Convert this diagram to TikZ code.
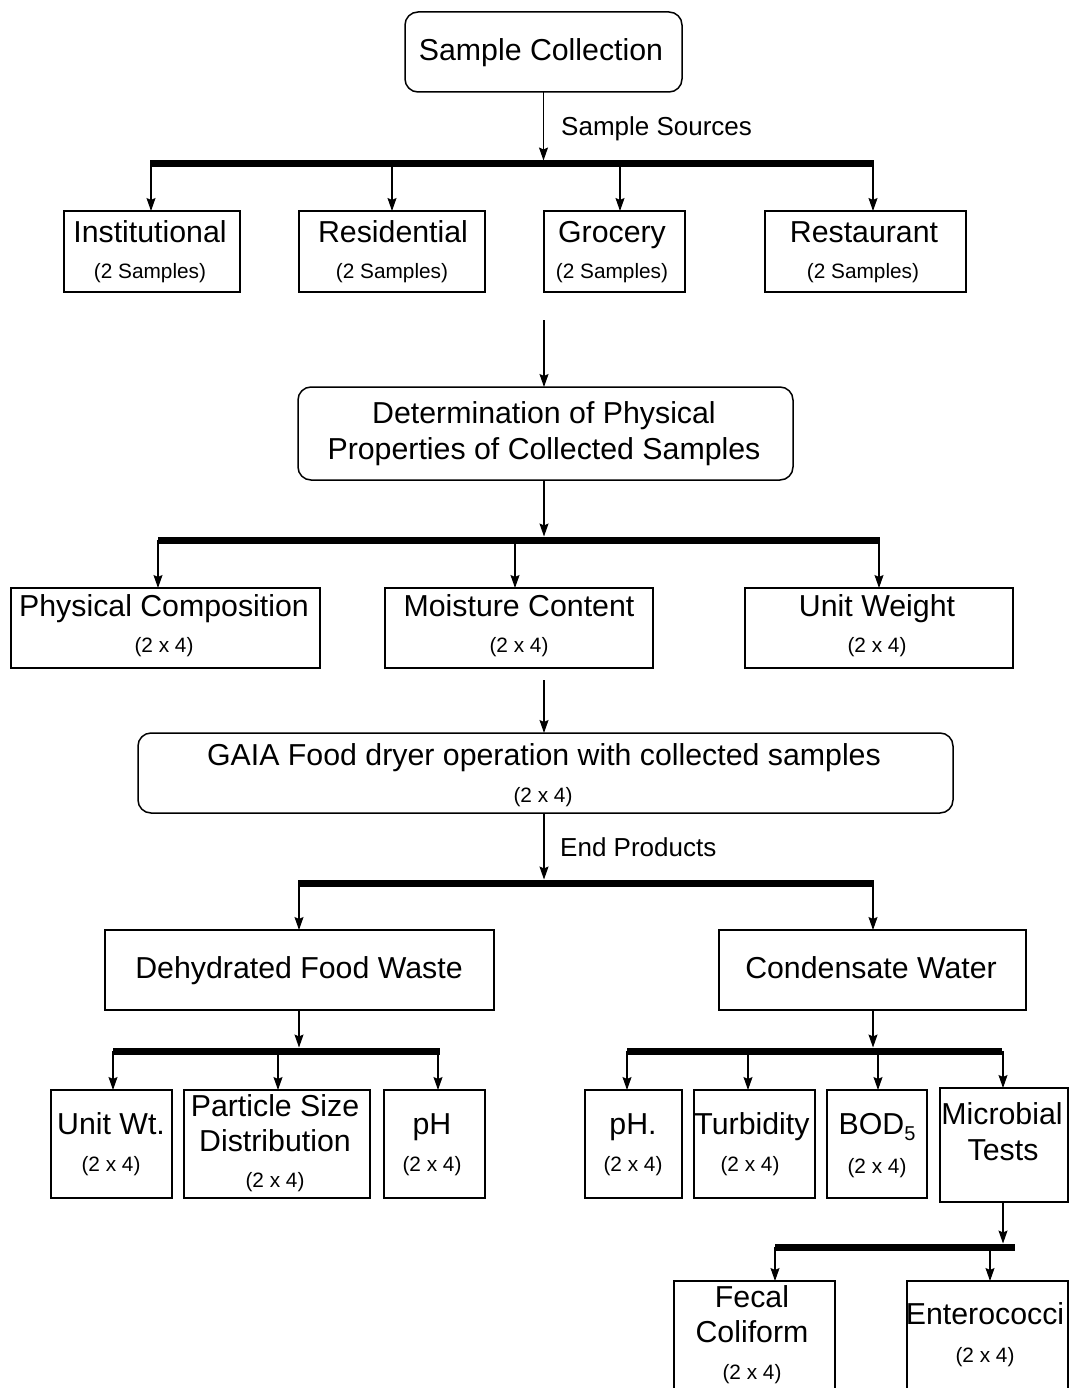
\documentclass[tikz,border=0pt]{standalone}
\usepackage{fontspec}
\setmainfont{Liberation Sans}
\usetikzlibrary{arrows.meta}

% box from corner (x1,y1) to corner (x2,y2): style, name, x1, y1, x2, y2
\newcommand\bx[6]{%
  \node[#1, minimum width={(#5-#3)*1pt}, minimum height={(#6-#4)*1pt}]
    (#2) at ({(#3+#5)/2},{(#4+#6)/2}) {};}

\tikzset{
  sq/.style={draw, line width=1.5pt, inner sep=0pt, outer sep=0pt},
  rnd/.style={sq, rounded corners=13pt},
  ttl/.style={font=\fontsize{30.3}{36}\selectfont, inner sep=0pt, anchor=base},
  sub/.style={font=\fontsize{20.8}{24}\selectfont, inner sep=0pt, anchor=base},
  lbl/.style={font=\fontsize{26}{30}\selectfont, inner sep=0pt, anchor=base west},
  bar/.style={line width=7pt},
  arr/.style={line width=1.2pt, -{Stealth[length=13pt,width=9pt,inset=2pt]}},
}

\begin{document}
\begin{tikzpicture}[x=1pt, y=-1pt]
\useasboundingbox (0,0) rectangle (1069,1388);
\clip (0,0) rectangle (1069,1388);
\fill[white] (0,0) rectangle (1069,1388);

% ---------- sample collection ----------
\bx{rnd}{sc}{405}{12}{682}{92}
\node[ttl] (tsc) at (541,61) {Sample Collection};
\coordinate (b1in) at (543.5,160.5);
\draw[arr] (sc) -- (b1in);
\node[lbl] (tss) at (561,136) {Sample Sources};
\coordinate (b1l) at (150,164);
\coordinate (b1r) at (874,164);
\draw[bar] (b1l) -- (b1r);

\bx{sq}{inst}{64}{211}{240}{292}
\bx{sq}{res}{299}{211}{485}{292}
\bx{sq}{gro}{544}{211}{685}{292}
\bx{sq}{rest}{765}{211}{966}{292}
\node[ttl] (tinst) at (150,243) {Institutional};
\node[sub] (sinst) at (150,278) {(2 Samples)};
\node[ttl] (tres) at (393,243) {Residential};
\node[sub] (sres) at (392,278) {(2 Samples)};
\node[ttl] (tgro) at (612,243) {Grocery};
\node[sub] (sgro) at (612,278) {(2 Samples)};
\node[ttl] (trest) at (864,243) {Restaurant};
\node[sub] (srest) at (863,278) {(2 Samples)};

\coordinate (b1a) at (151,164);
\coordinate (b1b) at (392,164);
\coordinate (b1c) at (620,164);
\coordinate (b1d) at (873,164);
\draw[arr] (b1a) -- (b1a |- inst.north);
\draw[arr] (b1b) -- (b1b |- res.north);
\draw[arr] (b1c) -- (b1c |- gro.north);
\draw[arr] (b1d) -- (b1d |- rest.north);

% ---------- physical properties ----------
\bx{rnd}{det}{298}{387}{793}{480}
\node[ttl] (tdet1) at (544,423) {Determination of Physical};
\node[ttl] (tdet2) at (544,459) {Properties of Collected Samples};
\coordinate (g0) at (544,320);
\draw[arr] (g0) -- (g0 |- det.north);

\coordinate (b2in) at (544,536.5);
\draw[arr] (det.south -| b2in) -- (b2in);
\coordinate (b2l) at (158,540);
\coordinate (b2r) at (880,540);
\draw[bar] (b2l) -- (b2r);

\bx{sq}{pc}{11}{588}{320}{668}
\bx{sq}{mc}{385}{588}{653}{668}
\bx{sq}{uw}{745}{588}{1013}{668}
\node[ttl] (tpc) at (164,616) {Physical Composition};
\node[sub] (spc) at (164,652) {(2 x 4)};
\node[ttl] (tmc) at (519,616) {Moisture Content};
\node[sub] (smc) at (519,652) {(2 x 4)};
\node[ttl] (tuw) at (877,616) {Unit Weight};
\node[sub] (suw) at (877,652) {(2 x 4)};

\coordinate (b2a) at (158,540);
\coordinate (b2b) at (515,540);
\coordinate (b2c) at (879,540);
\draw[arr] (b2a) -- (b2a |- pc.north);
\draw[arr] (b2b) -- (b2b |- mc.north);
\draw[arr] (b2c) -- (b2c |- uw.north);

% ---------- dryer ----------
\bx{rnd}{gaia}{138}{733}{953}{813}
\node[ttl] (tgaia) at (544,765) {GAIA Food dryer operation with collected samples};
\node[sub] (sgaia) at (543,802) {(2 x 4)};
\coordinate (m0) at (544,680);
\draw[arr] (m0) -- (m0 |- gaia.north);

\coordinate (b3in) at (544,879.5);
\draw[arr] (gaia.south -| b3in) -- (b3in);
\node[lbl] (tep) at (560,856) {End Products};
\coordinate (b3l) at (298,883);
\coordinate (b3r) at (874,883);
\draw[bar] (b3l) -- (b3r);

\bx{sq}{dfw}{105}{930}{494}{1010}
\bx{sq}{cw}{719}{930}{1026}{1010}
\node[ttl] (tdfw) at (299,978) {Dehydrated Food Waste};
\node[ttl] (tcw) at (871,978) {Condensate Water};

\coordinate (b3a) at (299,883);
\coordinate (b3b) at (873,883);
\draw[arr] (b3a) -- (b3a |- dfw.north);
\draw[arr] (b3b) -- (b3b |- cw.north);

% ---------- dehydrated food waste tests ----------
\coordinate (b4in) at (299,1047.5);
\draw[arr] (dfw.south -| b4in) -- (b4in);
\coordinate (b4l) at (113,1051);
\coordinate (b4r) at (440,1051);
\draw[bar] (b4l) -- (b4r);

\bx{sq}{uwt}{51}{1090}{172}{1198}
\bx{sq}{psd}{184}{1090}{370}{1198}
\bx{sq}{ph1}{384}{1090}{485}{1198}
\node[ttl] (tuwt) at (111,1134) {Unit Wt.};
\node[sub] (suwt) at (111,1171) {(2 x 4)};
\node[ttl] (tpsd1) at (275,1116) {Particle Size};
\node[ttl] (tpsd2) at (275,1151) {Distribution};
\node[sub] (spsd) at (275,1187) {(2 x 4)};
\node[ttl] (tph1) at (432,1134) {pH};
\node[sub] (sph1) at (432,1171) {(2 x 4)};

\coordinate (b4a) at (113,1051);
\coordinate (b4b) at (278,1051);
\coordinate (b4c) at (438,1051);
\draw[arr] (b4a) -- (b4a |- uwt.north);
\draw[arr] (b4b) -- (b4b |- psd.north);
\draw[arr] (b4c) -- (b4c |- ph1.north);

% ---------- condensate water tests ----------
\coordinate (b5in) at (873,1047.5);
\draw[arr] (cw.south -| b5in) -- (b5in);
\coordinate (b5l) at (627,1051);
\coordinate (b5r) at (1002,1051);
\draw[bar] (b5l) -- (b5r);

\bx{sq}{ph2}{585}{1090}{682}{1198}
\bx{sq}{tur}{694}{1090}{815}{1198}
\bx{sq}{bod}{827}{1090}{927}{1198}
\bx{sq}{mic}{940}{1088}{1068}{1202}
\node[ttl] (tph2) at (633,1134) {pH.};
\node[sub] (sph2) at (633,1171) {(2 x 4)};
\node[ttl] (ttur) at (752,1134) {Turbidity};
\node[sub] (stur) at (750,1171) {(2 x 4)};
\node[ttl] (tbod) at (877,1134) {BOD\raisebox{-0.22em}{\fontsize{20}{24}\selectfont 5}};
\node[sub] (sbod) at (877,1173) {(2 x 4)};
\node[ttl] (tmic1) at (1002,1124) {Microbial};
\node[ttl] (tmic2) at (1003,1160) {Tests};

\coordinate (b5a) at (627,1051);
\coordinate (b5b) at (748,1051);
\coordinate (b5c) at (878,1051);
\coordinate (b5d) at (1003,1051);
\draw[arr] (b5a) -- (b5a |- ph2.north);
\draw[arr] (b5b) -- (b5b |- tur.north);
\draw[arr] (b5c) -- (b5c |- bod.north);
\draw[arr] (b5d) -- (b5d |- mic.north);

% ---------- microbial tests ----------
\coordinate (b6in) at (1003,1243.5);
\draw[arr] (mic.south -| b6in) -- (b6in);
\coordinate (b6l) at (775,1247);
\coordinate (b6r) at (1015,1247);
\draw[bar] (b6l) -- (b6r);

\bx{sq}{fc}{674}{1281}{835}{1420}
\bx{sq}{ent}{907}{1281}{1068}{1420}
\node[ttl] (tfc1) at (752,1307) {Fecal};
\node[ttl] (tfc2) at (752,1342) {Coliform};
\node[sub] (sfc) at (752,1379) {(2 x 4)};
\node[ttl] (tent) at (985,1324) {Enterococci};
\node[sub] (sent) at (985,1362) {(2 x 4)};

\coordinate (b6a) at (775,1247);
\coordinate (b6b) at (990,1247);
\draw[arr] (b6a) -- (b6a |- fc.north);
\draw[arr] (b6b) -- (b6b |- ent.north);
\end{tikzpicture}
\end{document}
